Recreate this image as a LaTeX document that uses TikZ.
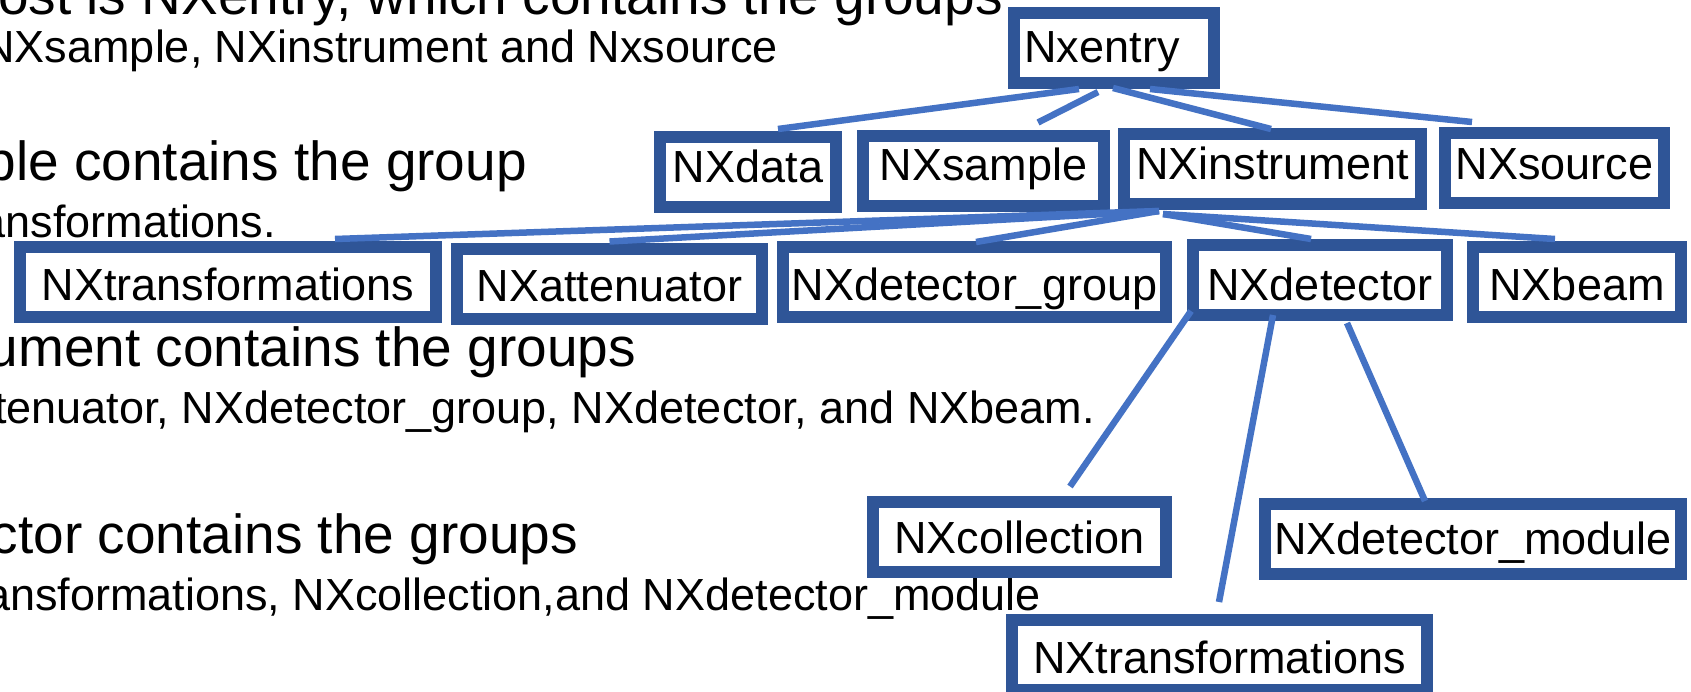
\documentclass[tikz,border=0pt]{standalone}
\usepackage{fontspec}
\setmainfont{Liberation Sans}
\definecolor{boxblue}{HTML}{2F5597}
\definecolor{lineblue}{HTML}{4472C4}
\begin{document}
\begin{tikzpicture}[x=1pt,y=-1pt,
  grp/.style={draw=boxblue, line width=12pt, fill=white, inner sep=0pt,
    minimum height=70pt, font=\fontsize{45}{54}\selectfont,
    text height=#1, text depth=0pt},
  grp/.default=36pt,
  conn/.style={draw=lineblue, line width=6.5pt},
  big/.style={font=\fontsize{55}{66}\selectfont, anchor=base east, inner sep=0pt},
  small/.style={font=\fontsize{45}{54}\selectfont, anchor=base east, inner sep=0pt}]
\useasboundingbox (0,0) rectangle (1691,691);
\clip (0,0) rectangle (1691,691);
\fill[white] (0,0) rectangle (1691,691);

% left-hand explanatory text (cut at the left edge)
\node[big]   (t1) at (1003,14)  {ost is NXentry, which contains the groups};
\node[small] (t2) at (778,62)   {NXsample, NXinstrument and Nxsource};
\node[big]   (t3) at (527,180)  {ple contains the group};
\node[small] (t4) at (276,237)  {ansformations.};
\node[big]   (t5) at (636,366)  {ument contains the groups};
\node[small] (t6) at (1095,423) {tenuator, NXdetector\_group, NXdetector, and NXbeam.};
\node[big]   (t7) at (578,553)  {ctor contains the groups};
\node[small] (t8) at (1041,610) {ansformations, NXcollection,and NXdetector\_module};

% group boxes
\node[grp=28pt, minimum width=200pt] (entry)  at (1114,48)    {Nxentry\rule{24pt}{0pt}};
\node[grp=20pt, minimum width=176pt] (data)   at (748,172)    {NXdata};
\node[grp=20pt, minimum width=241pt] (sample) at (983.5,170.5){NXsample};
\node[grp=20pt, minimum width=297pt] (inst)   at (1272.5,169) {NXinstrument};
\node[grp=22pt, minimum width=219pt] (source) at (1554.5,168) {NXsource};

\node[grp, minimum width=416pt] (trans1) at (228,282)    {NXtransformations};
\node[grp, minimum width=305pt] (atten)  at (609.5,283.5){NXattenuator};
\node[grp, minimum width=383pt] (dgroup) at (974.5,282)  {NXdetector\_group};
\node[grp=40pt, minimum width=254pt] (det) at (1320,280) {NXdetector};
\node[grp, minimum width=208pt] (beam)   at (1577,282)   {NXbeam};

\node[grp=33pt, minimum width=293pt] (coll)   at (1019.5,536.5) {NXcollection};
\node[grp=30pt, minimum width=416pt] (module) at (1473,539)     {NXdetector\_module};
\node[grp, minimum width=415pt]      (trans2) at (1219.5,655)   {NXtransformations};

% connectors
\draw[conn] ([shift={(-35,0)}]entry.south) -- ([shift={(30,-2)}]data.north);
\draw[conn] ([shift={(-16,3)}]entry.south) -- ([shift={(54.5,-7)}]sample.north);
\draw[conn] ([shift={(-1,-1)}]entry.south) -- ([shift={(-1.5,1)}]inst.north);
\draw[conn] ([shift={(36,0)}]entry.south)  -- ([shift={(-82.5,-5)}]source.north);

\draw[conn] ([shift={(-113.5,1)}]inst.south) -- ([shift={(107,-2)}]trans1.north);
\draw[conn] ([shift={(-113.5,1)}]inst.south) -- ([shift={(0,-1)}]atten.north);
\draw[conn] ([shift={(-113.5,1)}]inst.south) -- ([shift={(1.5,1)}]dgroup.north);
\draw[conn] ([shift={(-109.5,4)}]inst.south) -- ([shift={(-9,0)}]det.north);
\draw[conn] ([shift={(-109.5,4)}]inst.south) -- ([shift={(-22,-2)}]beam.north);

\draw[conn] ([shift={(-129,-10)}]det.south) -- ([shift={(50.5,-9)}]coll.north);
\draw[conn] ([shift={(-47,-6)}]det.south)   -- ([shift={(-0.5,-12)}]trans2.north);
\draw[conn] ([shift={(27,2)}]det.south)     -- ([shift={(-48,3)}]module.north);
\end{tikzpicture}
\end{document}
